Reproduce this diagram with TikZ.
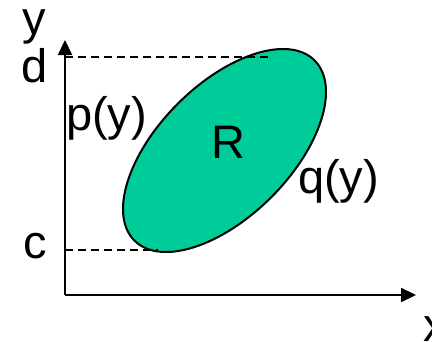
\documentclass[tikz,border=0pt]{standalone}
\usepackage{fontspec}
\setmainfont{Liberation Sans}
\usetikzlibrary{arrows.meta,shapes.geometric}
\definecolor{regiongreen}{RGB}{0,204,153}
\begin{document}
\begin{tikzpicture}[x=1pt,y=-1pt,
  axis/.style={line width=2.2pt,-{Triangle[length=15pt,width=14pt]}},
  guide/.style={line width=1.8pt,dash pattern=on 8pt off 5pt},
  lbl/.style={anchor=base west,inner sep=0pt,font=\fontsize{47}{50}\selectfont},
  region/.style={ellipse,draw,line width=2pt,fill=regiongreen,inner sep=0pt,
     minimum width=254.8pt,minimum height=132.2pt,rotate=45}]
\useasboundingbox (0,0) rectangle (432,341);
\node[region] (R) at (224.5,150.5) {};
\coordinate (O) at (65,295);
\coordinate (Ytip) at (65,40);
\coordinate (Xtip) at (416,295);
\coordinate (D0) at (65,57);
\coordinate (D1) at (272,57);
\coordinate (C0) at (65,250);
\coordinate (C1) at (158,250);
\draw[axis] (O) -- (Ytip);
\draw[axis] (O) -- (Xtip);
\draw[guide] (D0) -- (D1);
\draw[guide] (C0) -- (C1);
\node[lbl,text height=24pt] (ylab) at (22,34) {y};
\node[lbl] (dlab) at (21,82) {d};
\node[lbl] (clab) at (23,258) {c};
\node[lbl] (plab) at (66,130) {p(y)};
\node[lbl] (Rlab) at (211,158) {R};
\node[lbl] (qlab) at (298,193) {q(y)};
\node[lbl,text depth=0pt] (xlab) at (423,341) {x};
\end{tikzpicture}
\end{document}
